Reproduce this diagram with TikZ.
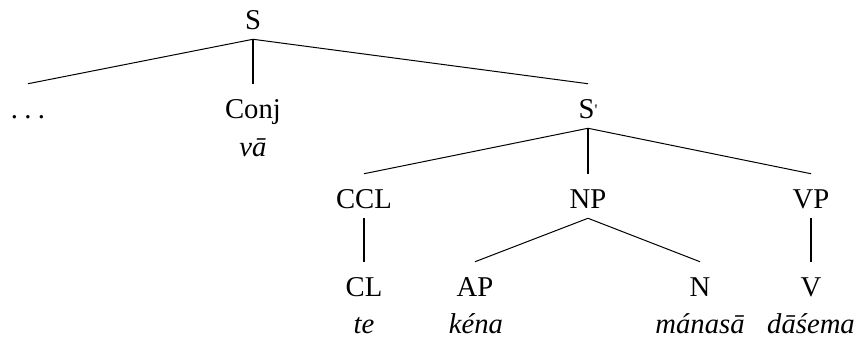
\documentclass[tikz,border=0pt]{standalone}
\usepackage{fontspec}
\setmainfont{Liberation Serif}
\usepackage{tikz}
\usetikzlibrary{positioning,calc}

\tikzset{
    cat/.style={anchor=base, inner sep=0pt, text height=25.5pt, text depth=7.5pt, font=\fontsize{21.5}{26}\selectfont},
    word/.style={anchor=base, inner sep=0pt, font=\fontsize{21.5}{26}\selectfont\itshape},
    branch/.style={line width=0.75pt},
    stem/.style={line width=1.4pt}
}

\begin{document}
\begin{tikzpicture}[x=0.75pt, y=-0.75pt]
    \useasboundingbox (0,0) rectangle (857,339);

    % top level
    \node[cat] (s) at (253,29) {S};
    \node[cat] (dots) at (28,118) {.\hspace{0.22em}.\hspace{0.22em}.};
    \node[cat] (conj) at (253,118) {Conj};
    \node[word] (va) at (253,156) {vā};
    \node[cat] (sbar) at (588,118) {S\raisebox{2pt}{\fontsize{12}{12}\selectfont\textquotesingle}};
    \draw[branch] (s.south) -- (dots.north);
    \draw[stem] (s.south) -- (conj.north);
    \draw[branch] (s.south) -- (sbar.north);

    % S' level
    \node[cat] (ccl) at (364,208) {CCL};
    \node[cat] (np) at (588,208) {NP};
    \node[cat] (vp) at (811,208) {VP};
    \draw[branch] (sbar.south) -- (ccl.north);
    \draw[stem] (sbar.south) -- (np.north);
    \draw[branch] (sbar.south) -- (vp.north);

    % leaves
    \node[cat] (cl) at (364,296) {CL};
    \node[cat] (ap) at (475,296) {AP};
    \node[cat] (n) at (700,296) {N};
    \node[cat] (v) at (811,296) {V};
    \draw[stem] (ccl.south) -- (cl.north);
    \draw[branch] (np.south) -- (ap.north);
    \draw[branch] (np.south) -- (n.north);
    \draw[stem] (vp.south) -- (v.north);

    \node[word] (te) at (364,333) {te};
    \node[word] (kena) at (476,333) {kéna};
    \node[word] (manasa) at (700,333) {mánasā};
    \node[word] (dasema) at (811,333) {dāśema};
\end{tikzpicture}
\end{document}
